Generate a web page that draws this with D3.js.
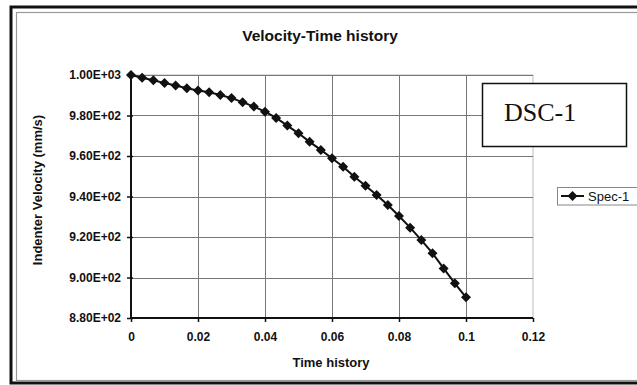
<!DOCTYPE html>
<html>
<head>
<meta charset="utf-8">
<script src="https://cdn.jsdelivr.net/npm/d3@7"></script>
<style>
  html, body { margin: 0; padding: 0; background: #fff; }
  svg { display: block; font-family: "Liberation Sans", Arial, sans-serif; }
</style>
</head>
<body>
<svg id="chart" width="637" height="385"></svg>
<script>
const times = [0, 0.00333, 0.00667, 0.01, 0.01333, 0.01667, 0.02, 0.02333, 0.02667, 0.03,
  0.03333, 0.03667, 0.04, 0.04333, 0.04667, 0.05, 0.05333, 0.05667, 0.06, 0.06333,
  0.06667, 0.07, 0.07333, 0.07667, 0.08, 0.08333, 0.08667, 0.09, 0.09333, 0.09667, 0.1];
const spec1 = [1000, 998.6, 997.4, 996.0, 994.8, 993.5, 992.3, 991.5, 990.1, 988.6,
  986.6, 984.4, 981.9, 978.8, 975.0, 971.2, 967.0, 963.0, 958.9, 954.7,
  949.8, 945.3, 940.7, 935.8, 930.4, 924.6, 918.5, 912.0, 904.5, 897.1, 890.2];
const xTicks = [0, 0.02, 0.04, 0.06, 0.08, 0.1, 0.12];
const xTickLabels = ["0", "0.02", "0.04", "0.06", "0.08", "0.1", "0.12"];
const yTicks = [880, 900, 920, 940, 960, 980, 1000];
const yTickLabels = ["8.80E+02", "9.00E+02", "9.20E+02", "9.40E+02", "9.60E+02", "9.80E+02", "1.00E+03"];
const chartTitle = "Velocity-Time history";
const xTitle = "Time history";
const yTitle = "Indenter Velocity (mm/s)";
const seriesName = "Spec-1";
const annotation = "DSC-1";

const svg = d3.select("#chart");
const L = 131, R = 533, T = 75, B = 318;
const x = d3.scaleLinear().domain([0, 0.12]).range([L, R]);
const y = d3.scaleLinear().domain([880, 1000]).range([B, T]);

// outer frame
svg.append("rect").attr("x", 11).attr("y", 7).attr("width", 640).attr("height", 376)
  .attr("fill", "none").attr("stroke", "#111").attr("stroke-width", 3);
svg.append("rect").attr("x", 16.5).attr("y", 12.5).attr("width", 630).attr("height", 368)
  .attr("fill", "none").attr("stroke", "#999").attr("stroke-width", 1.2);

// title
svg.append("text").attr("x", 320).attr("y", 41).attr("text-anchor", "middle")
  .attr("font-weight", "bold").attr("font-size", 15.5).attr("fill", "#111").text(chartTitle);

// plot area border
svg.append("rect").attr("x", L).attr("y", T).attr("width", R - L).attr("height", B - T)
  .attr("fill", "#fff").attr("stroke", "#bbb").attr("stroke-width", 1);

// gridlines
const grid = svg.append("g").attr("stroke", "#777").attr("stroke-width", 1);
grid.selectAll("line.h").data(yTicks.slice(1)).join("line")
  .attr("x1", L).attr("x2", R).attr("y1", d => Math.round(y(d)) + 0.5).attr("y2", d => Math.round(y(d)) + 0.5);
grid.selectAll("line.v").data(xTicks.slice(1, -1)).join("line")
  .attr("y1", T).attr("y2", B).attr("x1", d => Math.round(x(d)) + 0.5).attr("x2", d => Math.round(x(d)) + 0.5);

// axes
const yAxis = d3.axisLeft(y).tickValues(yTicks).tickSize(4).tickPadding(6)
  .tickFormat((d, i) => yTickLabels[i]);
const gy = svg.append("g").attr("transform", `translate(${L},0)`).call(yAxis);
const xAxis = d3.axisBottom(x).tickValues(xTicks).tickSize(4).tickPadding(10)
  .tickFormat((d, i) => xTickLabels[i]);
const gx = svg.append("g").attr("transform", `translate(0,${B})`).call(xAxis);
[gx, gy].forEach(g => {
  g.select(".domain").attr("stroke", "#111").attr("stroke-width", 2);
  g.selectAll(".tick line").attr("stroke", "#111").attr("stroke-width", 1.5);
  g.selectAll(".tick text").attr("font-family", "'Liberation Sans', Arial, sans-serif")
    .attr("font-size", 12).attr("font-weight", "bold").attr("fill", "#111");
});
gy.select(".domain").attr("d", `M0,${T}V${B}`);
gx.select(".domain").attr("d", `M${L},0H${R}`);
gy.selectAll(".tick line").attr("x2", -4).attr("x1", 2);

// axis titles
svg.append("text").attr("x", 331).attr("y", 367).attr("text-anchor", "middle")
  .attr("font-weight", "bold").attr("font-size", 13).attr("fill", "#111").text(xTitle);
svg.append("text").attr("transform", "translate(42,190) rotate(-90)").attr("text-anchor", "middle")
  .attr("font-weight", "bold").attr("font-size", 13).attr("fill", "#111").text(yTitle);

// series
const pts = times.map((t, i) => [t, spec1[i]]);
svg.append("path").datum(pts)
  .attr("d", d3.line().x(d => x(d[0])).y(d => y(d[1])))
  .attr("fill", "none").attr("stroke", "#111").attr("stroke-width", 2);
const marker = d3.symbol().type(d3.symbolSquare).size(50);
svg.append("g").selectAll("path").data(pts).join("path")
  .attr("d", marker)
  .attr("transform", d => `translate(${x(d[0])},${y(d[1])}) rotate(45)`)
  .attr("fill", "#111");

// annotation box
svg.append("rect").attr("x", 482.5).attr("y", 83.5).attr("width", 144).attr("height", 63)
  .attr("fill", "#fff").attr("stroke", "#111").attr("stroke-width", 1.5);
svg.append("text").attr("x", 504).attr("y", 121).attr("font-family", "'Liberation Serif', 'Times New Roman', serif")
  .attr("font-size", 26).attr("fill", "#111").text(annotation);

// legend
const lg = svg.append("g");
lg.append("rect").attr("x", 557.5).attr("y", 187.5).attr("width", 85).attr("height", 17.5)
  .attr("fill", "#fff").attr("stroke", "#888").attr("stroke-width", 1);
lg.append("line").attr("x1", 561).attr("x2", 584).attr("y1", 196).attr("y2", 196)
  .attr("stroke", "#111").attr("stroke-width", 2);
lg.append("path").attr("d", marker).attr("transform", "translate(572.5,196) rotate(45)").attr("fill", "#111");
lg.append("text").attr("x", 588).attr("y", 200.5).attr("font-size", 13).attr("fill", "#111").text(seriesName);
</script>
</body>
</html>
